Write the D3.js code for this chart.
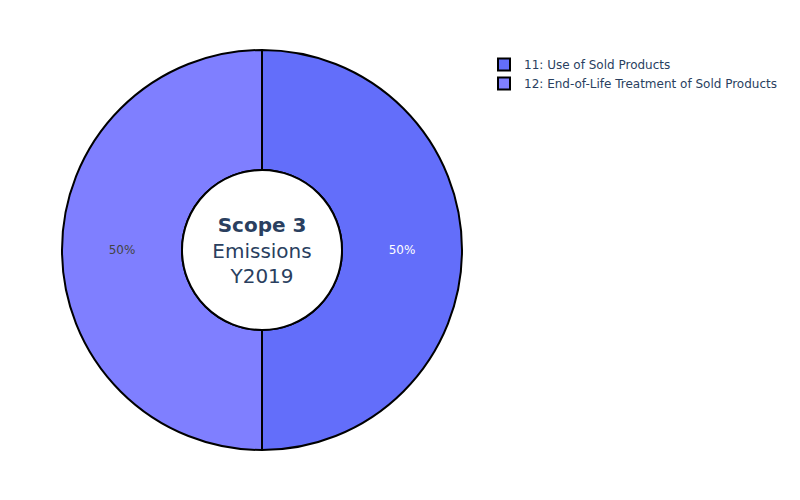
<!DOCTYPE html>
<html><head><meta charset="utf-8">
<script src="https://cdn.jsdelivr.net/npm/d3@7"></script>
<style>body{margin:0;background:#fff}svg{display:block}</style>
</head><body>
<svg id="c" width="800" height="500"></svg>
<script>
const categories = ["11: Use of Sold Products", "12: End-of-Life Treatment of Sold Products"];
const values = [50, 50];
const colors = ["#636efa", "#7f7fff"];
const labelColors = ["#ffffff", "#444444"];
const centerLines = ["Scope 3", "Emissions", "Y2019"];

const svg = d3.select("#c");
const font = "'DejaVu Sans', Verdana, sans-serif";
const cx = 262, cy = 250, R = 200, r = 80;

const pie = d3.pie().sort(null).value(d => d)(values);
const arc = d3.arc().innerRadius(r).outerRadius(R);
const g = svg.append("g").attr("transform", `translate(${cx},${cy})`);
const total = d3.sum(values);

g.selectAll("path.slice").data(pie).join("path")
  .attr("class", "slice")
  .attr("d", arc)
  .attr("fill", (d, i) => colors[i])
  .attr("stroke", "#000").attr("stroke-width", 2);

const labelArc = d3.arc().innerRadius((r + R) / 2).outerRadius((r + R) / 2);
g.selectAll("text.lbl").data(pie).join("text")
  .attr("class", "lbl")
  .attr("transform", d => `translate(${labelArc.centroid(d)})`)
  .attr("text-anchor", "middle").attr("dy", "0.35em")
  .attr("font-family", font).attr("font-size", 12)
  .attr("fill", (d, i) => labelColors[i])
  .text(d => Math.round(d.data / total * 100) + "%");

// center circle
g.append("circle").attr("r", r).attr("fill", "#fff").attr("stroke", "#000").attr("stroke-width", 2);
const t = g.append("text").attr("text-anchor", "middle").attr("font-family", font)
  .attr("font-size", 20).attr("fill", "#2a3f5f");
centerLines.forEach((s, i) => {
  t.append("tspan").attr("x", 0).attr("y", -18 + i * 25.5)
    .attr("font-weight", i === 0 ? "bold" : "normal").text(s);
});

// legend
const lg = svg.append("g").attr("transform", "translate(497,0)");
categories.forEach((c, i) => {
  const y = 64.5 + i * 19;
  lg.append("rect").attr("x", 1).attr("y", y - 6).attr("width", 12).attr("height", 12)
    .attr("fill", colors[i]).attr("stroke", "#000").attr("stroke-width", 2);
  lg.append("text").attr("x", 27).attr("y", y).attr("dy", "0.35em")
    .attr("font-family", font).attr("font-size", 12).attr("fill", "#2a3f5f").text(c);
});
</script>
</body></html>
